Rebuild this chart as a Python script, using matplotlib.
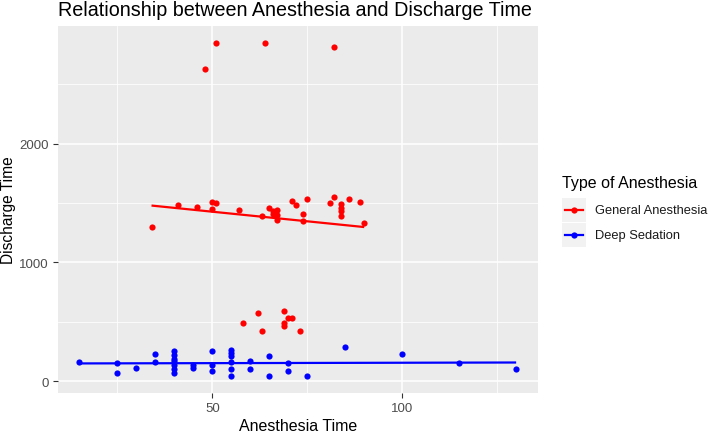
import numpy as np
import matplotlib
matplotlib.use("Agg")
import matplotlib.pyplot as plt
from matplotlib.lines import Line2D
from matplotlib.patches import Rectangle

plt.rcParams['font.family'] = ['Liberation Sans', 'DejaVu Sans']

# Data
red_x = [51, 64, 82, 48,
         34, 41, 46, 50, 51, 50, 57, 63, 65, 66, 67, 67, 67, 66,
         71, 72, 75, 74, 74, 81, 82, 84, 84, 84, 84, 86, 89, 90,
         58, 62, 63, 69, 69, 69, 70, 71, 73]
red_y = [2850, 2850, 2810, 2630,
         1300, 1480, 1470, 1510, 1500, 1450, 1440, 1390, 1460, 1430, 1440, 1400, 1360, 1410,
         1520, 1480, 1530, 1410, 1350, 1500, 1550, 1490, 1460, 1430, 1390, 1530, 1510, 1330,
         490, 570, 420, 590, 490, 460, 530, 530, 420]
blue_x = [15, 25, 25, 30, 35, 35, 40, 40, 40, 40, 40, 40, 40, 45, 45, 50, 50, 50,
          55, 55, 55, 55, 55, 55, 60, 60, 65, 65, 70, 70, 75, 85, 100, 115, 130]
blue_y = [160, 150, 65, 110, 225, 160, 250, 220, 190, 165, 135, 100, 65, 135, 110, 250, 135, 85,
          260, 235, 215, 160, 100, 45, 165, 100, 210, 45, 155, 85, 40, 285, 230, 150, 105]

groups = ["General Anesthesia", "Deep Sedation"]
colors = ["#FF0000", "#0000FF"]
x_ticks = [50, 100]
y_ticks = [0, 1000, 2000]

fig = plt.figure(figsize=(7.08, 4.35), dpi=100)
ax = fig.add_axes([57.5/708, 1-394/435, (538-57.5)/708, (394-27)/435])
ax.set_facecolor("#EBEBEB")
for s in ax.spines.values():
    s.set_visible(False)

for xs, ys, c in [(red_x, red_y, colors[0]), (blue_x, blue_y, colors[1])]:
    xs = np.array(xs, float); ys = np.array(ys, float)
    ax.scatter(xs, ys, s=20, color=c, linewidths=0, zorder=3)
    k, b = np.polyfit(xs, ys, 1)
    xl = np.array([xs.min(), xs.max()])
    ax.plot(xl, k*xl + b, color=c, lw=1.6, zorder=3, solid_capstyle='butt')

allx = red_x + blue_x
ally = red_y + blue_y
xr = max(allx) - min(allx); yr = max(ally) - min(ally)
ax.set_xlim(min(allx) - 0.05*xr, max(allx) + 0.05*xr)
ax.set_ylim(min(ally) - 0.05*yr, max(ally) + 0.05*yr)

ax.set_xticks(x_ticks)
ax.set_yticks(y_ticks)
ax.set_xticks([25, 75, 125], minor=True)
ax.set_yticks([500, 1500, 2500], minor=True)
ax.grid(which='major', color='white', lw=1.1, zorder=0)
ax.grid(which='minor', color='white', lw=0.55, zorder=0)
ax.set_axisbelow(True)
ax.tick_params(which='major', length=3.5, width=0.8, color='#333333',
               labelcolor='#4D4D4D', labelsize=9.5, pad=3)
ax.tick_params(which='minor', length=0)

ax.set_xlabel("Anesthesia Time", fontsize=11.5, color='black', labelpad=3)
ax.set_ylabel("Discharge Time", fontsize=11.2, color='black')
ax.yaxis.set_label_coords(-0.087, 0.5)
fig.text(57.5/708, 1-16/435, "Relationship between Anesthesia and Discharge Time",
         fontsize=14.2, color='black', ha='left', va='baseline')

# Legend (manual)
fig.text(562/708, 1-188/435, "Type of Anesthesia", fontsize=11.5, ha='left', va='baseline')
key_y = [211, 236]
for yy, c, lab in zip(key_y, colors, groups):
    fig.patches.append(Rectangle((562/708, 1-(yy+12)/435), 24/708, 24/435,
                                 transform=fig.transFigure, facecolor='#F2F2F2',
                                 edgecolor='none'))
    fig.lines.append(Line2D([565/708, 583/708], [1-yy/435, 1-yy/435],
                            transform=fig.transFigure, color=c, lw=1.6))
    fig.lines.append(Line2D([574/708], [1-yy/435], transform=fig.transFigure,
                            color=c, marker='o', markersize=4.5, markeredgewidth=0))
    fig.text(595/708, 1-yy/435, lab, fontsize=9.3, color='#1A1A1A', ha='left', va='center')

fig.savefig("out.png", dpi=100)
